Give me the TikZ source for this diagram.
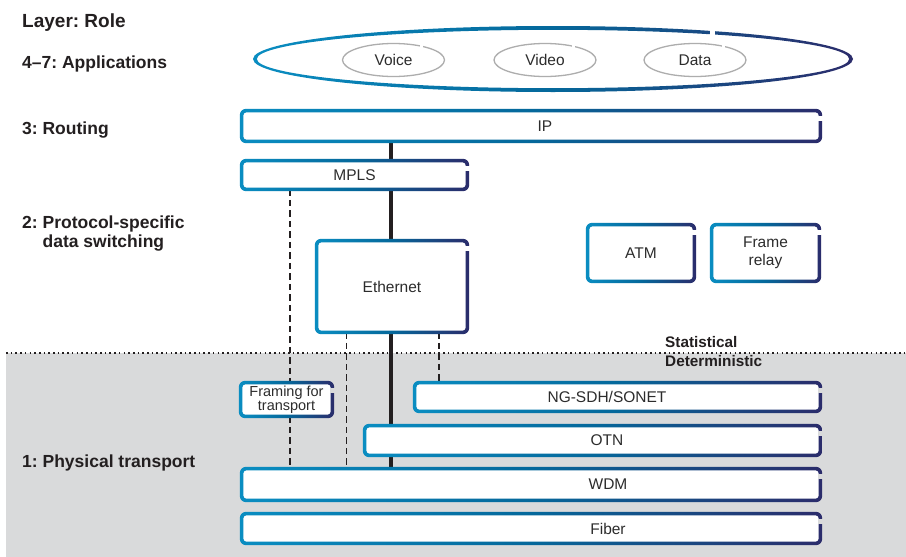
\documentclass[tikz,border=0pt]{standalone}
\usepackage{fontspec}
\setmainfont{Liberation Sans}
\usetikzlibrary{shapes.geometric}
\frenchspacing

\definecolor{edgeL}{HTML}{0A8DC1}
\definecolor{edgeM}{HTML}{05689B}
\definecolor{edgeR}{HTML}{2B2C6B}
\definecolor{bandgray}{HTML}{D9DADB}
\definecolor{ink}{HTML}{231F20}
\definecolor{txt}{HTML}{2C2C2C}
\definecolor{appring}{HTML}{ADADAD}

% teal -> blue -> navy, left to right across the shaded path
\pgfdeclarehorizontalshading{edgegrad}{100bp}{%
  color(0bp)=(edgeL); color(25bp)=(edgeL); color(50bp)=(edgeM);
  color(75bp)=(edgeR); color(100bp)=(edgeR)}

\pgfdeclarelayer{back}
\pgfdeclarelayer{wires}
\pgfsetlayers{back,wires,main}

\def\hw{1.8}
% shaded rounded outline of a panel node, with a small break on its right side
\newcommand\paneledge[2]{%
  \shade[shading=edgegrad, even odd rule]
    [rounded corners=6.3pt]
    ([shift={(-\hw,\hw)}]#1.south west) rectangle ([shift={(\hw,-\hw)}]#1.north east)
    [rounded corners=2.7pt]
    ([shift={(\hw,-\hw)}]#1.south west) rectangle ([shift={(-\hw,\hw)}]#1.north east);
  \fill[#2] ([shift={(-\hw-0.3,5.7)}]#1.north east) rectangle ([shift={(\hw+0.6,10.2)}]#1.north east);
}

\begin{document}
\begin{tikzpicture}[x=1pt,y=-1pt,
  tag/.style={inner sep=0pt, text=txt, align=center,
    font=\fontsize{15.5}{18}\selectfont},
  layer/.style={inner sep=0pt, anchor=base west, text=ink,
    font=\bfseries\fontsize{17.5}{19}\selectfont},
  side/.style={inner sep=0pt, anchor=base west, text=ink,
    font=\bfseries\fontsize{15.3}{18}\selectfont},
  panel/.style={fill=white, rounded corners=4.5pt, inner sep=0pt},
  app/.style={ellipse, draw=appring, line width=1.3pt, fill=white, inner sep=0pt,
    minimum width=102pt, minimum height=33pt, text=txt,
    font=\fontsize{15.5}{18}\selectfont},
  spine/.style={draw=ink, line width=4pt},
  tie/.style={draw=ink, line width=1.3pt, dash pattern=on 6.5pt off 4pt},
]
\useasboundingbox (0,0) rectangle (906,557);

% page, physical-transport band and the statistical / deterministic divide
\begin{pgfonlayer}{back}
  \fill[white] (0,0) rectangle (906,557);
  \fill[bandgray] (6,353) rectangle (906,557);
  \draw[ink, line width=1.6pt, dash pattern=on 1.6pt off 3.1pt] (6,353) -- (906,353);
\end{pgfonlayer}

% layer names
\node[layer, font=\bfseries\fontsize{19}{21}\selectfont] (l-role) at (22,27) {Layer: Role};
\node[layer] (l-app) at (22,68) {4–7: Applications};
\node[layer] (l-rt) at (22,134) {3: Routing};
\node[layer] (l-sw1) at (22,228) {2: Protocol-specific};
\node[layer] (l-sw2) at (22,247) {\hphantom{2:~}data switching};
\node[layer] (l-phy) at (22,467) {1: Physical transport};

\node[side] (stat) at (665,347) {Statistical};
\node[side] (det) at (665,366.5) {Deterministic};

% applications ring
\shade[shading=edgegrad, even odd rule]
  (553,59) ellipse [x radius=300pt, y radius=33pt]
  (553,59) ellipse [x radius=296.2pt, y radius=29.2pt];
\fill[white] (710,24) rectangle (715,38);

\node[app] (voice) at (393.5,60) {Voice};
\node[app] (video) at (545,60) {Video};
\node[app] (data) at (695,60) {Data};
\foreach \a in {voice,video,data}
  \fill[white] ([shift={(26.5,-18)}]\a.center) rectangle ([shift={(29.5,-11)}]\a.center);

% panels
\node[panel, minimum width=578.4pt, minimum height=30.4pt] (ip) at (531,126) {};
\paneledge{ip}{white}
\node[panel, minimum width=225.4pt, minimum height=28.4pt] (mpls) at (354.5,175) {};
\paneledge{mpls}{white}
\node[panel, minimum width=150.4pt, minimum height=91.4pt] (eth) at (392,286.5) {};
\paneledge{eth}{white}
\node[panel, minimum width=106.4pt, minimum height=56.4pt] (atm) at (641,253) {};
\paneledge{atm}{white}
\node[panel, minimum width=107.4pt, minimum height=56.4pt] (fr) at (765.5,253) {};
\paneledge{fr}{white}
\node[panel, minimum width=91.4pt, minimum height=33.4pt] (frm) at (286.5,399.5) {};
\paneledge{frm}{bandgray}
\node[panel, minimum width=405.4pt, minimum height=28.4pt] (sdh) at (617.5,397) {};
\paneledge{sdh}{bandgray}
\node[panel, minimum width=455.4pt, minimum height=29.4pt] (otn) at (592.5,440.5) {};
\paneledge{otn}{bandgray}
\node[panel, minimum width=578.4pt, minimum height=31.4pt] (wdm) at (531,484.5) {};
\paneledge{wdm}{bandgray}
\node[panel, minimum width=578.4pt, minimum height=29.4pt] (fiber) at (531,528.5) {};
\paneledge{fiber}{bandgray}

% panel captions
\node[tag] (ip-t) at (545,126) {IP};
\node[tag] (mpls-t) at (mpls.center) {MPLS};
\node[tag] (eth-t) at (eth.center) {Ethernet};
\node[tag] (atm-t) at (atm.center) {ATM};
\node[tag] (fr-t) at (fr.center) {Frame\\relay};
\node[tag, font=\fontsize{14.5}{13.5}\selectfont] (frm-t) at (frm.center) {Framing for\\transport};
\node[tag] (sdh-t) at (607,397) {NG-SDH/SONET};
\node[tag] (otn-t) at (607,440.5) {OTN};
\node[tag] (wdm-t) at (608,484.5) {WDM};
\node[tag] (fiber-t) at (608,528.5) {Fiber};

% vertical ties between layers
\coordinate (sp) at (390.5,0);
\coordinate (d1) at (290,0);
\coordinate (d2) at (346.7,0);
\coordinate (d3) at (439,0);
\begin{pgfonlayer}{wires}
  \draw[spine] (ip.south -| sp) -- (wdm.north -| sp);
  \draw[tie] (mpls.south -| d1) -- (frm.north -| d1);
  \draw[tie] (frm.south -| d1) -- (wdm.north -| d1);
  \draw[tie] (eth.south -| d2) -- (wdm.north -| d2);
  \draw[tie] (eth.south -| d3) -- (sdh.north -| d3);
\end{pgfonlayer}
\end{tikzpicture}
\end{document}
